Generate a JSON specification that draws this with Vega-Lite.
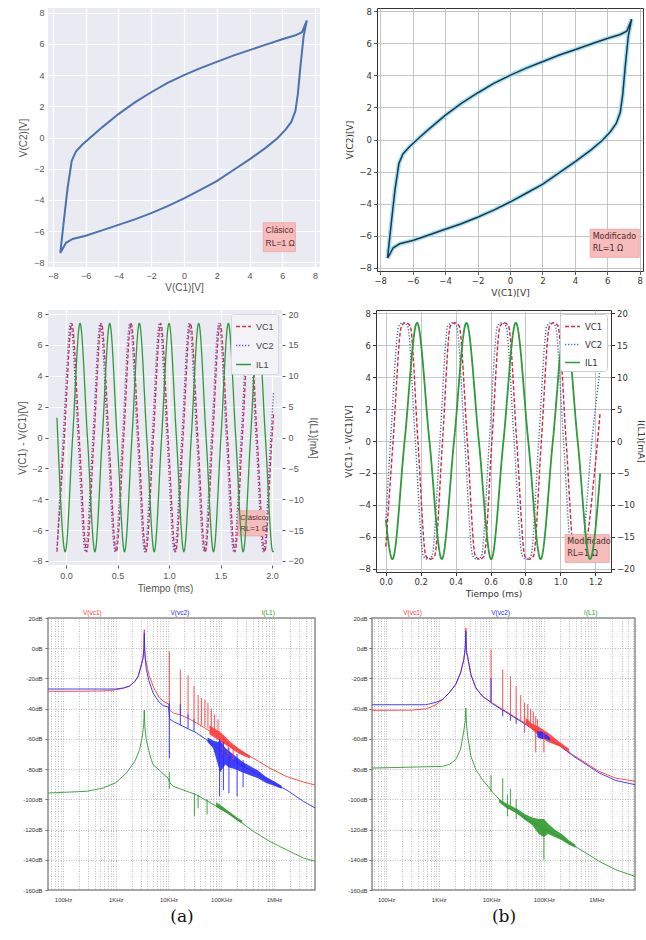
{
"$schema":"https://vega.github.io/schema/vega-lite/v6.json",
"background":"white",
"padding":{"left":17,"top":6,"right":0,"bottom":0},
"config":{"font":"Liberation Sans","axis":{"labelOverlap":false}},
"resolve":{"scale":{"color":"independent","strokeDash":"independent"},"legend":{"color":"independent","strokeDash":"independent"}},
"datasets":{
"loop":[{"o":1,"x":-7.55,"y":-7.4},{"o":2,"x":-7.35,"y":-5.5},{"o":3,"x":-7.1,"y":-3.2},{"o":4,"x":-6.85,"y":-1.5},{"o":5,"x":-6.6,"y":-0.9},{"o":6,"x":-6.2,"y":-0.45},{"o":7,"x":-5.5,"y":0.2},{"o":8,"x":-5.0,"y":0.65},{"o":9,"x":-4.0,"y":1.5},{"o":10,"x":-3.0,"y":2.25},{"o":11,"x":-2.0,"y":2.9},{"o":12,"x":-1.0,"y":3.5},{"o":13,"x":0.0,"y":4.0},{"o":14,"x":1.0,"y":4.45},{"o":15,"x":2.0,"y":4.85},{"o":16,"x":3.0,"y":5.25},{"o":17,"x":4.0,"y":5.6},{"o":18,"x":5.0,"y":5.95},{"o":19,"x":6.0,"y":6.3},{"o":20,"x":6.8,"y":6.55},{"o":21,"x":7.2,"y":6.75},{"o":22,"x":7.5,"y":7.5},{"o":23,"x":7.3,"y":6.5},{"o":24,"x":7.1,"y":4.5},{"o":25,"x":6.95,"y":2.8},{"o":26,"x":6.8,"y":1.7},{"o":27,"x":6.55,"y":1.0},{"o":28,"x":6.2,"y":0.5},{"o":29,"x":5.7,"y":-0.05},{"o":30,"x":5.0,"y":-0.65},{"o":31,"x":4.0,"y":-1.4},{"o":32,"x":3.0,"y":-2.1},{"o":33,"x":2.0,"y":-2.8},{"o":34,"x":1.0,"y":-3.35},{"o":35,"x":0.0,"y":-3.9},{"o":36,"x":-1.0,"y":-4.4},{"o":37,"x":-2.0,"y":-4.85},{"o":38,"x":-3.0,"y":-5.25},{"o":39,"x":-4.0,"y":-5.6},{"o":40,"x":-5.0,"y":-5.95},{"o":41,"x":-6.0,"y":-6.3},{"o":42,"x":-6.8,"y":-6.5},{"o":43,"x":-7.2,"y":-6.75},{"o":44,"x":-7.55,"y":-7.4}],
"tsL":[
{"s":"VC1","t":-0.088,"v":-7.4},{"s":"VC1","t":-0.016,"v":0},{"s":"VC1","t":0.056,"v":7.4},{"s":"VC1","t":0.128,"v":0},{"s":"VC1","t":0.2,"v":-7.4},{"s":"VC1","t":0.272,"v":0},{"s":"VC1","t":0.344,"v":7.4},{"s":"VC1","t":0.416,"v":0},{"s":"VC1","t":0.488,"v":-7.4},{"s":"VC1","t":0.56,"v":0},{"s":"VC1","t":0.632,"v":7.4},{"s":"VC1","t":0.704,"v":0},{"s":"VC1","t":0.776,"v":-7.4},{"s":"VC1","t":0.848,"v":0},{"s":"VC1","t":0.92,"v":7.4},{"s":"VC1","t":0.992,"v":0},{"s":"VC1","t":1.064,"v":-7.4},{"s":"VC1","t":1.136,"v":0},{"s":"VC1","t":1.208,"v":7.4},{"s":"VC1","t":1.28,"v":0},{"s":"VC1","t":1.352,"v":-7.4},{"s":"VC1","t":1.424,"v":0},{"s":"VC1","t":1.496,"v":7.4},{"s":"VC1","t":1.568,"v":0},{"s":"VC1","t":1.64,"v":-7.4},{"s":"VC1","t":1.712,"v":0},{"s":"VC1","t":1.784,"v":7.4},{"s":"VC1","t":1.856,"v":0},{"s":"VC1","t":1.928,"v":-7.4},{"s":"VC1","t":2.0,"v":0},{"s":"VC1","t":2.015,"v":1.5},
{"s":"VC2","t":-0.088,"v":-7.2},{"s":"VC2","t":-0.028,"v":0},{"s":"VC2","t":0.044,"v":7.4},{"s":"VC2","t":0.116,"v":0},{"s":"VC2","t":0.188,"v":-7.4},{"s":"VC2","t":0.26,"v":0},{"s":"VC2","t":0.332,"v":7.4},{"s":"VC2","t":0.404,"v":0},{"s":"VC2","t":0.476,"v":-7.4},{"s":"VC2","t":0.548,"v":0},{"s":"VC2","t":0.62,"v":7.4},{"s":"VC2","t":0.692,"v":0},{"s":"VC2","t":0.764,"v":-7.4},{"s":"VC2","t":0.836,"v":0},{"s":"VC2","t":0.908,"v":7.4},{"s":"VC2","t":0.98,"v":0},{"s":"VC2","t":1.052,"v":-7.4},{"s":"VC2","t":1.124,"v":0},{"s":"VC2","t":1.196,"v":7.4},{"s":"VC2","t":1.268,"v":0},{"s":"VC2","t":1.34,"v":-7.4},{"s":"VC2","t":1.412,"v":0},{"s":"VC2","t":1.484,"v":7.4},{"s":"VC2","t":1.556,"v":0},{"s":"VC2","t":1.628,"v":-7.4},{"s":"VC2","t":1.7,"v":0},{"s":"VC2","t":1.772,"v":7.4},{"s":"VC2","t":1.844,"v":0},{"s":"VC2","t":1.916,"v":-7.4},{"s":"VC2","t":1.988,"v":0},{"s":"VC2","t":2.015,"v":3.0}],
"ilL":[{"s":"IL1","t":-0.088,"i":3.2},{"s":"IL1","t":-0.08,"i":0},{"s":"IL1","t":-0.008,"i":-18.5},{"s":"IL1","t":0.064,"i":0},{"s":"IL1","t":0.136,"i":18.5},{"s":"IL1","t":0.208,"i":0},{"s":"IL1","t":0.28,"i":-18.5},{"s":"IL1","t":0.352,"i":0},{"s":"IL1","t":0.424,"i":18.5},{"s":"IL1","t":0.496,"i":0},{"s":"IL1","t":0.568,"i":-18.5},{"s":"IL1","t":0.64,"i":0},{"s":"IL1","t":0.712,"i":18.5},{"s":"IL1","t":0.784,"i":0},{"s":"IL1","t":0.856,"i":-18.5},{"s":"IL1","t":0.928,"i":0},{"s":"IL1","t":1.0,"i":18.5},{"s":"IL1","t":1.072,"i":0},{"s":"IL1","t":1.144,"i":-18.5},{"s":"IL1","t":1.216,"i":0},{"s":"IL1","t":1.288,"i":18.5},{"s":"IL1","t":1.36,"i":0},{"s":"IL1","t":1.432,"i":-18.5},{"s":"IL1","t":1.504,"i":0},{"s":"IL1","t":1.576,"i":18.5},{"s":"IL1","t":1.648,"i":0},{"s":"IL1","t":1.72,"i":-18.5},{"s":"IL1","t":1.792,"i":0},{"s":"IL1","t":1.864,"i":18.5},{"s":"IL1","t":1.936,"i":0},{"s":"IL1","t":2.008,"i":-18.5},{"s":"IL1","t":2.015,"i":-18.4}],
"tsR":[
{"s":"VC1","t":0,"v":-6.6},{"s":"VC1","t":0.042,"v":0},{"s":"VC1","t":0.09,"v":7.2},{"s":"VC1","t":0.113,"v":7.4},{"s":"VC1","t":0.14,"v":7.2},{"s":"VC1","t":0.184,"v":0},{"s":"VC1","t":0.23,"v":-7.2},{"s":"VC1","t":0.255,"v":-7.4},{"s":"VC1","t":0.28,"v":-7.2},{"s":"VC1","t":0.325,"v":0},{"s":"VC1","t":0.37,"v":7.2},{"s":"VC1","t":0.396,"v":7.4},{"s":"VC1","t":0.42,"v":7.2},{"s":"VC1","t":0.467,"v":0},{"s":"VC1","t":0.513,"v":-7.2},{"s":"VC1","t":0.538,"v":-7.4},{"s":"VC1","t":0.563,"v":-7.2},{"s":"VC1","t":0.608,"v":0},{"s":"VC1","t":0.655,"v":7.2},{"s":"VC1","t":0.679,"v":7.4},{"s":"VC1","t":0.703,"v":7.2},{"s":"VC1","t":0.75,"v":0},{"s":"VC1","t":0.797,"v":-7.2},{"s":"VC1","t":0.821,"v":-7.4},{"s":"VC1","t":0.846,"v":-7.2},{"s":"VC1","t":0.891,"v":0},{"s":"VC1","t":0.938,"v":7.2},{"s":"VC1","t":0.962,"v":7.4},{"s":"VC1","t":0.986,"v":7.2},{"s":"VC1","t":1.033,"v":0},{"s":"VC1","t":1.08,"v":-7.2},{"s":"VC1","t":1.104,"v":-7.4},{"s":"VC1","t":1.13,"v":-7.2},{"s":"VC1","t":1.2,"v":-1.5},{"s":"VC1","t":1.228,"v":1.8},
{"s":"VC2","t":0,"v":-5.0},{"s":"VC2","t":0.027,"v":0},{"s":"VC2","t":0.075,"v":7.2},{"s":"VC2","t":0.098,"v":7.4},{"s":"VC2","t":0.125,"v":7.2},{"s":"VC2","t":0.169,"v":0},{"s":"VC2","t":0.215,"v":-7.2},{"s":"VC2","t":0.24,"v":-7.4},{"s":"VC2","t":0.265,"v":-7.2},{"s":"VC2","t":0.31,"v":0},{"s":"VC2","t":0.355,"v":7.2},{"s":"VC2","t":0.381,"v":7.4},{"s":"VC2","t":0.405,"v":7.2},{"s":"VC2","t":0.452,"v":0},{"s":"VC2","t":0.498,"v":-7.2},{"s":"VC2","t":0.523,"v":-7.4},{"s":"VC2","t":0.548,"v":-7.2},{"s":"VC2","t":0.593,"v":0},{"s":"VC2","t":0.64,"v":7.2},{"s":"VC2","t":0.664,"v":7.4},{"s":"VC2","t":0.688,"v":7.2},{"s":"VC2","t":0.735,"v":0},{"s":"VC2","t":0.782,"v":-7.2},{"s":"VC2","t":0.806,"v":-7.4},{"s":"VC2","t":0.831,"v":-7.2},{"s":"VC2","t":0.876,"v":0},{"s":"VC2","t":0.923,"v":7.2},{"s":"VC2","t":0.947,"v":7.4},{"s":"VC2","t":0.971,"v":7.2},{"s":"VC2","t":1.018,"v":0},{"s":"VC2","t":1.065,"v":-7.2},{"s":"VC2","t":1.089,"v":-7.4},{"s":"VC2","t":1.115,"v":-7.2},{"s":"VC2","t":1.185,"v":0.5},{"s":"VC2","t":1.228,"v":4.6}],
"ilR":[{"s":"IL1","t":0,"i":-12.3},{"s":"IL1","t":0.038,"i":-18.5},{"s":"IL1","t":0.108,"i":0},{"s":"IL1","t":0.179,"i":18.5},{"s":"IL1","t":0.25,"i":0},{"s":"IL1","t":0.321,"i":-18.5},{"s":"IL1","t":0.391,"i":0},{"s":"IL1","t":0.462,"i":18.5},{"s":"IL1","t":0.533,"i":0},{"s":"IL1","t":0.604,"i":-18.5},{"s":"IL1","t":0.674,"i":0},{"s":"IL1","t":0.745,"i":18.5},{"s":"IL1","t":0.816,"i":0},{"s":"IL1","t":0.887,"i":-18.5},{"s":"IL1","t":0.957,"i":0},{"s":"IL1","t":1.028,"i":18.5},{"s":"IL1","t":1.099,"i":0},{"s":"IL1","t":1.17,"i":-18.5},{"s":"IL1","t":1.228,"i":-5.1}],
"spec5":[
{"s":"V(vc1)","f":52,"db":-28.5},{"s":"V(vc1)","f":200,"db":-28.5},{"s":"V(vc1)","f":500,"db":-28.3},{"s":"V(vc1)","f":800,"db":-28},{"s":"V(vc1)","f":1000,"db":-27.5},{"s":"V(vc1)","f":1400,"db":-26.5},{"s":"V(vc1)","f":1840,"db":-25},{"s":"V(vc1)","f":2300,"db":-22},{"s":"V(vc1)","f":2660,"db":-18.6},{"s":"V(vc1)","f":3000,"db":-12},{"s":"V(vc1)","f":3300,"db":-6},{"s":"V(vc1)","f":3420,"db":0},{"s":"V(vc1)","f":3480,"db":12.3},{"s":"V(vc1)","f":3540,"db":0},{"s":"V(vc1)","f":3650,"db":-6},{"s":"V(vc1)","f":3800,"db":-9.8},{"s":"V(vc1)","f":4300,"db":-18},{"s":"V(vc1)","f":5100,"db":-25},{"s":"V(vc1)","f":6000,"db":-30},{"s":"V(vc1)","f":6800,"db":-33},{"s":"V(vc1)","f":8000,"db":-35},{"s":"V(vc1)","f":10000,"db":-37},{"s":"V(vc1)","f":10600,"db":-41},{"s":"V(vc1)","f":12500,"db":-43},{"s":"V(vc1)","f":16400,"db":-44},{"s":"V(vc1)","f":24000,"db":-46.5},{"s":"V(vc1)","f":33900,"db":-49.5},{"s":"V(vc1)","f":50000,"db":-53},{"s":"V(vc1)","f":93000,"db":-59},{"s":"V(vc1)","f":150000,"db":-64.5},{"s":"V(vc1)","f":226000,"db":-68.2},{"s":"V(vc1)","f":400000,"db":-72.6},{"s":"V(vc1)","f":830000,"db":-79.3},{"s":"V(vc1)","f":1700000,"db":-84.8},{"s":"V(vc1)","f":3600000,"db":-88.5},{"s":"V(vc1)","f":6000000,"db":-90.5},
{"s":"V(vc2)","f":52,"db":-27},{"s":"V(vc2)","f":500,"db":-27},{"s":"V(vc2)","f":1000,"db":-27},{"s":"V(vc2)","f":1400,"db":-26.3},{"s":"V(vc2)","f":1840,"db":-25},{"s":"V(vc2)","f":2300,"db":-22},{"s":"V(vc2)","f":2660,"db":-18.6},{"s":"V(vc2)","f":3000,"db":-12.5},{"s":"V(vc2)","f":3300,"db":-6.5},{"s":"V(vc2)","f":3420,"db":0},{"s":"V(vc2)","f":3480,"db":10},{"s":"V(vc2)","f":3540,"db":-2},{"s":"V(vc2)","f":3650,"db":-8},{"s":"V(vc2)","f":3800,"db":-14},{"s":"V(vc2)","f":4300,"db":-22},{"s":"V(vc2)","f":5100,"db":-29.6},{"s":"V(vc2)","f":6000,"db":-33.5},{"s":"V(vc2)","f":6800,"db":-36},{"s":"V(vc2)","f":8000,"db":-38},{"s":"V(vc2)","f":10000,"db":-39},{"s":"V(vc2)","f":10600,"db":-47},{"s":"V(vc2)","f":12300,"db":-48.4},{"s":"V(vc2)","f":16400,"db":-50.6},{"s":"V(vc2)","f":33900,"db":-56},{"s":"V(vc2)","f":50000,"db":-60},{"s":"V(vc2)","f":93000,"db":-67},{"s":"V(vc2)","f":226000,"db":-77},{"s":"V(vc2)","f":400000,"db":-81.5},{"s":"V(vc2)","f":830000,"db":-88},{"s":"V(vc2)","f":1700000,"db":-93.6},{"s":"V(vc2)","f":3600000,"db":-101.3},{"s":"V(vc2)","f":6000000,"db":-105.7},
{"s":"I(L1)","f":52,"db":-95.8},{"s":"I(L1)","f":280,"db":-94.7},{"s":"I(L1)","f":575,"db":-92.5},{"s":"I(L1)","f":1000,"db":-89},{"s":"I(L1)","f":1600,"db":-82.6},{"s":"I(L1)","f":2300,"db":-74.9},{"s":"I(L1)","f":2850,"db":-67},{"s":"I(L1)","f":3200,"db":-58},{"s":"I(L1)","f":3400,"db":-50},{"s":"I(L1)","f":3480,"db":-41},{"s":"I(L1)","f":3560,"db":-52},{"s":"I(L1)","f":3800,"db":-60.5},{"s":"I(L1)","f":4500,"db":-71.5},{"s":"I(L1)","f":5100,"db":-77},{"s":"I(L1)","f":6800,"db":-81},{"s":"I(L1)","f":9800,"db":-86},{"s":"I(L1)","f":10600,"db":-89},{"s":"I(L1)","f":12300,"db":-91.4},{"s":"I(L1)","f":33900,"db":-97},{"s":"I(L1)","f":93000,"db":-105.7},{"s":"I(L1)","f":226000,"db":-114.6},{"s":"I(L1)","f":400000,"db":-121},{"s":"I(L1)","f":830000,"db":-127.8},{"s":"I(L1)","f":1700000,"db":-133.3},{"s":"I(L1)","f":3600000,"db":-138.8},{"s":"I(L1)","f":6000000,"db":-141}],
"fuzz5":[
{"s":"V(vc1)","f":60000,"lo":-57,"hi":-51},{"s":"V(vc1)","f":100000,"lo":-62,"hi":-56},{"s":"V(vc1)","f":150000,"lo":-66,"hi":-62},{"s":"V(vc1)","f":220000,"lo":-70,"hi":-66.5},{"s":"V(vc1)","f":350000,"lo":-73,"hi":-71},
{"s":"V(vc2)","f":55000,"lo":-62,"hi":-59},{"s":"V(vc2)","f":70000,"lo":-66,"hi":-61},{"s":"V(vc2)","f":85000,"lo":-76,"hi":-62},{"s":"V(vc2)","f":95000,"lo":-82,"hi":-61},{"s":"V(vc2)","f":105000,"lo":-80,"hi":-63},{"s":"V(vc2)","f":120000,"lo":-77,"hi":-66},{"s":"V(vc2)","f":140000,"lo":-79,"hi":-68},{"s":"V(vc2)","f":180000,"lo":-80,"hi":-71},{"s":"V(vc2)","f":250000,"lo":-82,"hi":-75},{"s":"V(vc2)","f":350000,"lo":-84,"hi":-78},{"s":"V(vc2)","f":500000,"lo":-86,"hi":-81},{"s":"V(vc2)","f":700000,"lo":-89,"hi":-85},{"s":"V(vc2)","f":1000000,"lo":-91,"hi":-88},{"s":"V(vc2)","f":1400000,"lo":-93,"hi":-91},
{"s":"I(L1)","f":80000,"lo":-105,"hi":-102},{"s":"I(L1)","f":100000,"lo":-107,"hi":-104},{"s":"I(L1)","f":130000,"lo":-109,"hi":-107},{"s":"I(L1)","f":200000,"lo":-114,"hi":-112},{"s":"I(L1)","f":250000,"lo":-116,"hi":-114}],
"spk5":[
{"s":"V(vc1)","f":10400,"lo":-38,"hi":-2},{"s":"V(vc1)","f":16800,"lo":-44,"hi":-14},{"s":"V(vc1)","f":23500,"lo":-46,"hi":-18},{"s":"V(vc1)","f":30500,"lo":-48,"hi":-25},{"s":"V(vc1)","f":36500,"lo":-50,"hi":-31},{"s":"V(vc1)","f":42500,"lo":-51,"hi":-33},{"s":"V(vc1)","f":49000,"lo":-52,"hi":-34},{"s":"V(vc1)","f":56000,"lo":-53,"hi":-36},{"s":"V(vc1)","f":65000,"lo":-55,"hi":-40},{"s":"V(vc1)","f":75000,"lo":-56,"hi":-44},{"s":"V(vc1)","f":87000,"lo":-58,"hi":-47},{"s":"V(vc1)","f":108000,"lo":-70,"hi":-58},{"s":"V(vc1)","f":135000,"lo":-72,"hi":-62},{"s":"V(vc1)","f":168000,"lo":-74,"hi":-65},
{"s":"V(vc2)","f":10400,"lo":-73,"hi":-36},{"s":"V(vc2)","f":16800,"lo":-51,"hi":-37},{"s":"V(vc2)","f":23500,"lo":-53,"hi":-44},{"s":"V(vc2)","f":30500,"lo":-55,"hi":-47},{"s":"V(vc2)","f":93000,"lo":-98,"hi":-60},{"s":"V(vc2)","f":110000,"lo":-94,"hi":-62},{"s":"V(vc2)","f":140000,"lo":-96,"hi":-66},{"s":"V(vc2)","f":200000,"lo":-98,"hi":-70},{"s":"V(vc2)","f":260000,"lo":-92,"hi":-74},
{"s":"I(L1)","f":10400,"lo":-93,"hi":-82},{"s":"I(L1)","f":31000,"lo":-111,"hi":-96},{"s":"I(L1)","f":36500,"lo":-106,"hi":-97},{"s":"I(L1)","f":54000,"lo":-110,"hi":-100}],
"lab5":[{"s":"V(vc1)","f":360},{"s":"V(vc2)","f":16400},{"s":"I(L1)","f":776000}],
"spec6":[
{"s":"V(vc1)","f":54,"db":-41.1},{"s":"V(vc1)","f":300,"db":-41},{"s":"V(vc1)","f":570,"db":-40.2},{"s":"V(vc1)","f":890,"db":-37.4},{"s":"V(vc1)","f":1180,"db":-34},{"s":"V(vc1)","f":1580,"db":-29.6},{"s":"V(vc1)","f":2100,"db":-24},{"s":"V(vc1)","f":2600,"db":-16.4},{"s":"V(vc1)","f":3000,"db":-7.6},{"s":"V(vc1)","f":3200,"db":0},{"s":"V(vc1)","f":3290,"db":13.4},{"s":"V(vc1)","f":3370,"db":-1},{"s":"V(vc1)","f":3560,"db":-5.4},{"s":"V(vc1)","f":4100,"db":-17.5},{"s":"V(vc1)","f":5100,"db":-26.3},{"s":"V(vc1)","f":6800,"db":-31.8},{"s":"V(vc1)","f":9200,"db":-35},{"s":"V(vc1)","f":10600,"db":-36.3},{"s":"V(vc1)","f":19000,"db":-41.8},{"s":"V(vc1)","f":34000,"db":-47.3},{"s":"V(vc1)","f":61000,"db":-52.8},{"s":"V(vc1)","f":110000,"db":-58.3},{"s":"V(vc1)","f":195000,"db":-63.8},{"s":"V(vc1)","f":350000,"db":-70.4},{"s":"V(vc1)","f":630000,"db":-76},{"s":"V(vc1)","f":1120000,"db":-81.5},{"s":"V(vc1)","f":2330000,"db":-86},{"s":"V(vc1)","f":5400000,"db":-88},
{"s":"V(vc2)","f":54,"db":-37.4},{"s":"V(vc2)","f":570,"db":-37.4},{"s":"V(vc2)","f":890,"db":-35.8},{"s":"V(vc2)","f":1180,"db":-34},{"s":"V(vc2)","f":1580,"db":-29.6},{"s":"V(vc2)","f":2100,"db":-24},{"s":"V(vc2)","f":2600,"db":-16.4},{"s":"V(vc2)","f":3000,"db":-7.6},{"s":"V(vc2)","f":3200,"db":0},{"s":"V(vc2)","f":3290,"db":11.2},{"s":"V(vc2)","f":3370,"db":-3},{"s":"V(vc2)","f":3560,"db":-6},{"s":"V(vc2)","f":4100,"db":-17.5},{"s":"V(vc2)","f":5100,"db":-26.3},{"s":"V(vc2)","f":6800,"db":-31.8},{"s":"V(vc2)","f":9200,"db":-35},{"s":"V(vc2)","f":10600,"db":-36.8},{"s":"V(vc2)","f":19000,"db":-42.3},{"s":"V(vc2)","f":34000,"db":-47.8},{"s":"V(vc2)","f":61000,"db":-53.3},{"s":"V(vc2)","f":110000,"db":-58.8},{"s":"V(vc2)","f":195000,"db":-64.3},{"s":"V(vc2)","f":350000,"db":-71},{"s":"V(vc2)","f":630000,"db":-76.8},{"s":"V(vc2)","f":1120000,"db":-82.5},{"s":"V(vc2)","f":2330000,"db":-87.5},{"s":"V(vc2)","f":5400000,"db":-90.3},
{"s":"I(L1)","f":54,"db":-79.3},{"s":"I(L1)","f":1180,"db":-78.2},{"s":"I(L1)","f":1580,"db":-77},{"s":"I(L1)","f":2100,"db":-73.8},{"s":"I(L1)","f":2600,"db":-67},{"s":"I(L1)","f":3000,"db":-55},{"s":"I(L1)","f":3200,"db":-48},{"s":"I(L1)","f":3290,"db":-39.6},{"s":"I(L1)","f":3370,"db":-50},{"s":"I(L1)","f":3560,"db":-58.3},{"s":"I(L1)","f":4100,"db":-71.5},{"s":"I(L1)","f":5100,"db":-80.4},{"s":"I(L1)","f":6800,"db":-87},{"s":"I(L1)","f":9200,"db":-92.5},{"s":"I(L1)","f":10600,"db":-95.4},{"s":"I(L1)","f":19000,"db":-104.6},{"s":"I(L1)","f":34000,"db":-110},{"s":"I(L1)","f":61000,"db":-115.2},{"s":"I(L1)","f":110000,"db":-120},{"s":"I(L1)","f":195000,"db":-124.5},{"s":"I(L1)","f":350000,"db":-130},{"s":"I(L1)","f":630000,"db":-135.5},{"s":"I(L1)","f":1120000,"db":-141},{"s":"I(L1)","f":2330000,"db":-146.6},{"s":"I(L1)","f":5400000,"db":-151}],
"fuzz6":[
{"s":"V(vc1)","f":45000,"lo":-50,"hi":-46},{"s":"V(vc1)","f":60000,"lo":-54,"hi":-50},{"s":"V(vc1)","f":80000,"lo":-58,"hi":-52},{"s":"V(vc1)","f":120000,"lo":-62,"hi":-56},{"s":"V(vc1)","f":200000,"lo":-65,"hi":-62},{"s":"V(vc1)","f":300000,"lo":-68.5,"hi":-66.5},
{"s":"V(vc2)","f":75000,"lo":-59,"hi":-55},{"s":"V(vc2)","f":90000,"lo":-60,"hi":-55},{"s":"V(vc2)","f":110000,"lo":-60,"hi":-57},{"s":"V(vc2)","f":130000,"lo":-61,"hi":-59},
{"s":"I(L1)","f":14000,"lo":-102,"hi":-100},{"s":"I(L1)","f":20000,"lo":-106,"hi":-103},{"s":"I(L1)","f":30000,"lo":-109,"hi":-106},{"s":"I(L1)","f":45000,"lo":-114,"hi":-110},{"s":"I(L1)","f":60000,"lo":-117,"hi":-112},{"s":"I(L1)","f":80000,"lo":-123,"hi":-113},{"s":"I(L1)","f":100000,"lo":-125,"hi":-113},{"s":"I(L1)","f":120000,"lo":-123,"hi":-116},{"s":"I(L1)","f":160000,"lo":-125,"hi":-120},{"s":"I(L1)","f":220000,"lo":-127,"hi":-123},{"s":"I(L1)","f":300000,"lo":-130,"hi":-127},{"s":"I(L1)","f":400000,"lo":-132,"hi":-130}],
"spk6":[
{"s":"V(vc1)","f":9900,"lo":-35,"hi":-1},{"s":"V(vc1)","f":16500,"lo":-42,"hi":-14},{"s":"V(vc1)","f":23100,"lo":-44,"hi":-18.6},{"s":"V(vc1)","f":29700,"lo":-46,"hi":-25},{"s":"V(vc1)","f":36300,"lo":-48,"hi":-31},{"s":"V(vc1)","f":42900,"lo":-56,"hi":-36},{"s":"V(vc1)","f":49500,"lo":-50,"hi":-37},{"s":"V(vc1)","f":56000,"lo":-51,"hi":-40},{"s":"V(vc1)","f":63000,"lo":-52,"hi":-42},{"s":"V(vc1)","f":70000,"lo":-69,"hi":-45},{"s":"V(vc1)","f":76000,"lo":-54,"hi":-47},{"s":"V(vc1)","f":100000,"lo":-69,"hi":-55},
{"s":"V(vc2)","f":9900,"lo":-36,"hi":-19.7},{"s":"V(vc2)","f":16500,"lo":-45,"hi":-41},{"s":"V(vc2)","f":23100,"lo":-48,"hi":-44},{"s":"V(vc2)","f":29700,"lo":-50,"hi":-46},
{"s":"I(L1)","f":9900,"lo":-95,"hi":-84},{"s":"I(L1)","f":16500,"lo":-102,"hi":-86},{"s":"I(L1)","f":20300,"lo":-111,"hi":-97},{"s":"I(L1)","f":23100,"lo":-105,"hi":-93},{"s":"I(L1)","f":29700,"lo":-113,"hi":-100},{"s":"I(L1)","f":100000,"lo":-140,"hi":-120}],
"lab6":[{"s":"V(vc1)","f":320},{"s":"V(vc2)","f":15000},{"s":"I(L1)","f":780000}]
},
"spacing":10,
"vconcat":[
{"spacing":25,"resolve":{"scale":{"color":"independent","strokeDash":"independent"},"legend":{"color":"independent","strokeDash":"independent"}},"hconcat":[
 {"width":272,"height":259,"view":{"fill":"#EAEAF2","stroke":null},
  "layer":[
   {"data":{"name":"loop"},"mark":{"type":"line","color":"#4c72b0","strokeWidth":2},
    "encoding":{
     "x":{"field":"x","type":"quantitative","scale":{"domain":[-8.3,8.3],"nice":false,"zero":false},
      "axis":{"title":"V(C1)[V]","values":[-8,-6,-4,-2,0,2,4,6,8],"tickCount":100,"format":"d","labelOverlap":false,"grid":true,"gridColor":"#ffffff","gridWidth":1.2,"domain":false,"ticks":false,"labelFont":"Liberation Sans","labelFontSize":9,"labelColor":"#555555","labelPadding":4,"titleFont":"Liberation Sans","titleFontSize":10,"titleFontWeight":"normal","titleColor":"#555555","titlePadding":2}},
     "y":{"field":"y","type":"quantitative","scale":{"domain":[-8.3,8.3],"nice":false,"zero":false},
      "axis":{"title":"V(C2)[V]","values":[-8,-6,-4,-2,0,2,4,6,8],"tickCount":100,"format":"d","labelOverlap":false,"grid":true,"gridColor":"#ffffff","gridWidth":1.2,"domain":false,"ticks":false,"labelFont":"Liberation Sans","labelFontSize":9,"labelColor":"#555555","labelPadding":4,"titleFont":"Liberation Sans","titleFontSize":10,"titleFontWeight":"normal","titleColor":"#555555","titlePadding":5}},
     "order":{"field":"o","type":"quantitative"}}},
   {"data":{"values":[{"x1":4.84,"x2":6.8,"y1":-5.46,"y2":-7.32}]},"mark":{"type":"rect","fill":"#f7bcbc","stroke":"#e9a5a5","strokeWidth":0.8},
    "encoding":{"x":{"field":"x1","type":"quantitative"},"x2":{"field":"x2"},"y":{"field":"y1","type":"quantitative"},"y2":{"field":"y2"}}},
   {"data":{"values":[{"x":4.98,"y":-5.95,"txt":"Clásico"},{"x":4.98,"y":-6.75,"txt":"RL=1 Ω"}]},"mark":{"type":"text","align":"left","baseline":"middle","font":"Liberation Sans","fontSize":8.5,"color":"#5a3030"},
    "encoding":{"x":{"field":"x","type":"quantitative"},"y":{"field":"y","type":"quantitative"},"text":{"field":"txt"}}}
  ]},
 {"width":266,"height":263,"view":{"fill":"#ffffff","stroke":"#333333","strokeWidth":1},
  "layer":[
   {"data":{"name":"loop"},"mark":{"type":"line","color":"#a6e3f5","strokeWidth":4.5},
    "encoding":{
     "x":{"field":"x","type":"quantitative","scale":{"domain":[-8.2,8.2],"nice":false,"zero":false},
      "axis":{"title":"V(C1)[V]","values":[-8,-6,-4,-2,0,2,4,6,8],"tickCount":100,"format":"d","labelOverlap":false,"grid":true,"gridColor":"#b8b8b8","gridWidth":0.8,"domain":false,"ticks":true,"tickColor":"#333333","tickSize":3.5,"tickWidth":0.8,"labelFont":"DejaVu Sans","labelFontSize":8.5,"labelColor":"#333333","labelPadding":2,"titleFont":"DejaVu Sans","titleFontSize":9,"titleFontWeight":"normal","titleColor":"#333333","titlePadding":3}},
     "y":{"field":"y","type":"quantitative","scale":{"domain":[-8.2,8.2],"nice":false,"zero":false},
      "axis":{"title":"V(C2)[V]","values":[-8,-6,-4,-2,0,2,4,6,8],"tickCount":100,"format":"d","labelOverlap":false,"grid":true,"gridColor":"#b8b8b8","gridWidth":0.8,"domain":false,"ticks":true,"tickColor":"#333333","tickSize":3.5,"tickWidth":0.8,"labelFont":"DejaVu Sans","labelFontSize":8.5,"labelColor":"#333333","labelPadding":2,"titleFont":"DejaVu Sans","titleFontSize":9,"titleFontWeight":"normal","titleColor":"#333333","titlePadding":4}},
     "order":{"field":"o","type":"quantitative"}}},
   {"data":{"name":"loop"},"mark":{"type":"line","color":"#1c3550","strokeWidth":1.5},
    "encoding":{"x":{"field":"x","type":"quantitative"},"y":{"field":"y","type":"quantitative"},"order":{"field":"o","type":"quantitative"}}},
   {"data":{"values":[{"x1":4.94,"x2":7.97,"y1":-5.6,"y2":-7.35}]},"mark":{"type":"rect","fill":"#f7bcbc","stroke":"#e9a5a5","strokeWidth":0.8},
    "encoding":{"x":{"field":"x1","type":"quantitative"},"x2":{"field":"x2"},"y":{"field":"y1","type":"quantitative"},"y2":{"field":"y2"}}},
   {"data":{"values":[{"x":5.1,"y":-6.05,"txt":"Modificado"},{"x":5.1,"y":-6.8,"txt":"RL=1 Ω"}]},"mark":{"type":"text","align":"left","baseline":"middle","font":"DejaVu Sans","fontSize":8,"color":"#4a2a2a"},
    "encoding":{"x":{"field":"x","type":"quantitative"},"y":{"field":"y","type":"quantitative"},"text":{"field":"txt"}}}
  ]}
]},
{"spacing":26,"resolve":{"scale":{"color":"independent","strokeDash":"independent"},"legend":{"color":"independent","strokeDash":"independent"}},"hconcat":[
 {"width":234,"height":255,"view":{"fill":"#EAEAF2","stroke":null},
  "resolve":{"scale":{"y":"independent"}},
  "layer":[
   {"layer":[
     {"data":{"name":"tsL"},"mark":{"type":"line","strokeWidth":1.3,"interpolate":"monotone"},
      "encoding":{
       "x":{"field":"t","type":"quantitative","scale":{"domain":[-0.175,2.097],"nice":false,"zero":false},
        "axis":{"title":"Tiempo (ms)","values":[0,0.5,1,1.5,2],"tickCount":100,"format":".1f","labelOverlap":false,"grid":true,"gridColor":"#ffffff","gridWidth":1.2,"domain":false,"ticks":true,"tickColor":"#555555","tickSize":3,"labelFont":"Liberation Sans","labelFontSize":9,"labelColor":"#555555","labelPadding":3,"titleFont":"Liberation Sans","titleFontSize":10,"titleFontWeight":"normal","titleColor":"#555555","titlePadding":3}},
       "y":{"field":"v","type":"quantitative","scale":{"domain":[-8.26,8.26],"nice":false,"zero":false},
        "axis":{"title":"V(C1) - V(C1)[V]","values":[-8,-6,-4,-2,0,2,4,6,8],"tickCount":100,"format":"d","labelOverlap":false,"grid":true,"gridColor":"#ffffff","gridWidth":1.2,"domain":false,"ticks":true,"tickColor":"#555555","tickSize":3,"labelFont":"Liberation Sans","labelFontSize":9,"labelColor":"#555555","labelPadding":3,"titleFont":"Liberation Sans","titleFontSize":10,"titleFontWeight":"normal","titleColor":"#555555","titlePadding":4}},
       "color":{"field":"s","type":"nominal","scale":{"domain":["VC1","VC2","IL1"],"range":["#d2304e","#6650b8","#2e9a3a"]},
        "legend":{"title":null,"orient":"top-right","offset":4,"fillColor":"#f2f2f7","strokeColor":"#d8d8e0","padding":4,"cornerRadius":2,"symbolType":"stroke","symbolStrokeWidth":1.4,"symbolSize":220,"labelFont":"Liberation Sans","labelFontSize":9,"labelColor":"#444444","rowPadding":5}},
       "strokeDash":{"field":"s","type":"nominal","scale":{"domain":["VC1","VC2","IL1"],"range":[[4,2],[1.2,1.8],[1,0]]},
        "legend":{"title":null,"orient":"top-right","offset":4,"fillColor":"#f2f2f7","strokeColor":"#d8d8e0","padding":4,"cornerRadius":2,"symbolType":"stroke","symbolStrokeWidth":1.4,"symbolSize":220,"labelFont":"Liberation Sans","labelFontSize":9,"labelColor":"#444444","rowPadding":5}}}},
     {"data":{"values":[{"x1":1.67,"x2":1.93,"y1":-4.75,"y2":-6.37}]},"mark":{"type":"rect","fill":"#f7bcbc","stroke":"#e9a5a5","strokeWidth":0.8},
      "encoding":{"x":{"field":"x1","type":"quantitative"},"x2":{"field":"x2"},"y":{"field":"y1","type":"quantitative"},"y2":{"field":"y2"}}},
     {"data":{"values":[{"x":1.69,"y":-5.2,"txt":"Clásico"},{"x":1.69,"y":-5.9,"txt":"RL=1 Ω"}]},"mark":{"type":"text","align":"left","baseline":"middle","font":"Liberation Sans","fontSize":8,"color":"#5a3030"},
      "encoding":{"x":{"field":"x","type":"quantitative"},"y":{"field":"y","type":"quantitative"},"text":{"field":"txt"}}}
   ]},
   {"data":{"name":"ilL"},"mark":{"type":"line","strokeWidth":1.3,"interpolate":"monotone"},
    "encoding":{
     "x":{"field":"t","type":"quantitative"},
     "y":{"field":"i","type":"quantitative","scale":{"domain":[-20.65,20.65],"nice":false,"zero":false},
      "axis":{"orient":"right","title":"I(L1)[mA]","values":[-20,-15,-10,-5,0,5,10,15,20],"tickCount":100,"format":"d","labelOverlap":false,"grid":false,"domain":false,"ticks":true,"tickColor":"#555555","tickSize":3,"labelFont":"Liberation Sans","labelFontSize":9,"labelColor":"#555555","labelPadding":3,"titleFont":"Liberation Sans","titleFontSize":10,"titleFontWeight":"normal","titleColor":"#555555","titlePadding":4}},
     "color":{"field":"s","type":"nominal"},
     "strokeDash":{"field":"s","type":"nominal"}}}
  ]},
 {"width":235,"height":262,"view":{"fill":"#ffffff","stroke":"#333333","strokeWidth":1},
  "resolve":{"scale":{"y":"independent"}},
  "layer":[
   {"layer":[
     {"data":{"name":"tsR"},"mark":{"type":"line","strokeWidth":1.4,"interpolate":"monotone"},
      "encoding":{
       "x":{"field":"t","type":"quantitative","scale":{"domain":[-0.056,1.29],"nice":false,"zero":false},
        "axis":{"title":"Tiempo (ms)","values":[0,0.2,0.4,0.6,0.8,1,1.2],"tickCount":100,"format":".1f","labelOverlap":false,"grid":true,"gridColor":"#b8b8b8","gridWidth":0.8,"domain":false,"ticks":true,"tickColor":"#333333","tickSize":3.5,"labelFont":"DejaVu Sans","labelFontSize":8.5,"labelColor":"#333333","labelPadding":2,"titleFont":"DejaVu Sans","titleFontSize":9,"titleFontWeight":"normal","titleColor":"#333333","titlePadding":3}},
       "y":{"field":"v","type":"quantitative","scale":{"domain":[-8.2,8.2],"nice":false,"zero":false},
        "axis":{"title":"V(C1) - V(C1)[V]","values":[-8,-6,-4,-2,0,2,4,6,8],"tickCount":100,"format":"d","labelOverlap":false,"grid":true,"gridColor":"#b8b8b8","gridWidth":0.8,"domain":false,"ticks":true,"tickColor":"#333333","tickSize":3.5,"labelFont":"DejaVu Sans","labelFontSize":8.5,"labelColor":"#333333","labelPadding":2,"titleFont":"DejaVu Sans","titleFontSize":9,"titleFontWeight":"normal","titleColor":"#333333","titlePadding":4}},
       "color":{"field":"s","type":"nominal","scale":{"domain":["VC1","VC2","IL1"],"range":["#d62738","#3a6ab8","#2e9a3a"]},
        "legend":{"title":null,"orient":"top-right","offset":4,"fillColor":"#ffffff","strokeColor":"#cccccc","padding":4,"cornerRadius":3,"symbolType":"stroke","symbolStrokeWidth":1.5,"symbolSize":220,"labelFont":"DejaVu Sans","labelFontSize":8.5,"labelColor":"#333333","rowPadding":5}},
       "strokeDash":{"field":"s","type":"nominal","scale":{"domain":["VC1","VC2","IL1"],"range":[[4,2],[1.2,1.8],[1,0]]},
        "legend":{"title":null,"orient":"top-right","offset":4,"fillColor":"#ffffff","strokeColor":"#cccccc","padding":4,"cornerRadius":3,"symbolType":"stroke","symbolStrokeWidth":1.5,"symbolSize":220,"labelFont":"DejaVu Sans","labelFontSize":8.5,"labelColor":"#333333","rowPadding":5}}}},
     {"data":{"values":[{"x1":1.027,"x2":1.28,"y1":-5.85,"y2":-7.6}]},"mark":{"type":"rect","fill":"#f7bcbc","stroke":"#e9a5a5","strokeWidth":0.8},
      "encoding":{"x":{"field":"x1","type":"quantitative"},"x2":{"field":"x2"},"y":{"field":"y1","type":"quantitative"},"y2":{"field":"y2"}}},
     {"data":{"values":[{"x":1.04,"y":-6.35,"txt":"Modificado"},{"x":1.04,"y":-7.1,"txt":"RL=1 Ω"}]},"mark":{"type":"text","align":"left","baseline":"middle","font":"DejaVu Sans","fontSize":8,"color":"#4a2a2a"},
      "encoding":{"x":{"field":"x","type":"quantitative"},"y":{"field":"y","type":"quantitative"},"text":{"field":"txt"}}}
   ]},
   {"data":{"name":"ilR"},"mark":{"type":"line","strokeWidth":1.8,"interpolate":"monotone"},
    "encoding":{
     "x":{"field":"t","type":"quantitative"},
     "y":{"field":"i","type":"quantitative","scale":{"domain":[-20.5,20.5],"nice":false,"zero":false},
      "axis":{"orient":"right","title":"I(L1)[mA]","values":[-20,-15,-10,-5,0,5,10,15,20],"tickCount":100,"format":"d","labelOverlap":false,"grid":false,"domain":false,"ticks":true,"tickColor":"#333333","tickSize":3.5,"labelFont":"DejaVu Sans","labelFontSize":8.5,"labelColor":"#333333","labelPadding":2,"titleFont":"DejaVu Sans","titleFontSize":9,"titleFontWeight":"normal","titleColor":"#333333","titlePadding":1}},
     "color":{"field":"s","type":"nominal"},
     "strokeDash":{"field":"s","type":"nominal"}}}
  ]}
]},
{"spacing":28,"resolve":{"scale":{"color":"independent","strokeDash":"independent"},"legend":{"color":"independent","strokeDash":"independent"}},"hconcat":[
 {"width":267,"height":272,"view":{"fill":"#ffffff","stroke":"#8c8c8c","strokeWidth":1.5},
  "layer":[
   {"data":{"name":"spec5"},"mark":{"type":"line","strokeWidth":0.9},
    "encoding":{
     "x":{"field":"f","type":"quantitative","scale":{"type":"log","domain":[52,6000000],"nice":false},
      "axis":{"title":"(a)","values":[60,70,80,90,100,200,300,400,500,600,700,800,900,1000,2000,3000,4000,5000,6000,7000,8000,9000,10000,20000,30000,40000,50000,60000,70000,80000,90000,100000,200000,300000,400000,500000,600000,700000,800000,900000,1000000,2000000,3000000,4000000,5000000],"tickCount":100,"labelExpr":"datum.value==100?'100Hz':datum.value==1000?'1KHz':datum.value==10000?'10KHz':datum.value==100000?'100KHz':datum.value==1000000?'1MHz':''","labelOverlap":false,"grid":true,"gridColor":"#a0a0a0","gridDash":[1,1.5],"gridWidth":0.7,"ticks":false,"domain":false,"labelFont":"Liberation Sans","labelFontSize":6,"labelColor":"#333333","labelPadding":6,"titleFont":"DejaVu Serif","titleFontSize":17,"titleFontWeight":"normal","titleColor":"#111111","titlePadding":6}},
     "y":{"field":"db","type":"quantitative","scale":{"domain":[-160,20],"nice":false,"zero":false},
      "axis":{"title":null,"values":[-160,-140,-120,-100,-80,-60,-40,-20,0,20],"tickCount":100,"labelExpr":"datum.value + 'dB'","labelOverlap":false,"grid":true,"gridColor":"#a0a0a0","gridDash":[1,1.5],"gridWidth":0.7,"ticks":true,"tickSize":3,"tickColor":"#777777","domain":false,"labelFont":"Liberation Sans","labelFontSize":6,"labelColor":"#333333","labelPadding":3}},
     "color":{"field":"s","type":"nominal","scale":{"domain":["V(vc1)","V(vc2)","I(L1)"],"range":["#ff3b3b","#2b2bff","#2f9a2f"]},"legend":null}}},
   {"data":{"name":"fuzz5"},"mark":{"type":"area","opacity":0.9},
    "encoding":{"x":{"field":"f","type":"quantitative"},"y":{"field":"lo","type":"quantitative"},"y2":{"field":"hi"},"color":{"field":"s","type":"nominal","legend":null}}},
   {"data":{"name":"spk5"},"mark":{"type":"rule","strokeWidth":0.9},
    "encoding":{"x":{"field":"f","type":"quantitative"},"y":{"field":"lo","type":"quantitative"},"y2":{"field":"hi"},"color":{"field":"s","type":"nominal","legend":null}}},
   {"data":{"name":"lab5"},"mark":{"type":"text","fontSize":6.5,"font":"Liberation Sans","baseline":"alphabetic","dy":-3},
    "encoding":{"x":{"field":"f","type":"quantitative"},"y":{"datum":20,"type":"quantitative"},"text":{"field":"s"},"color":{"field":"s","type":"nominal","legend":null}}}
  ]},
 {"width":263,"height":272,"view":{"fill":"#ffffff","stroke":"#8c8c8c","strokeWidth":1.5},
  "layer":[
   {"data":{"name":"spec6"},"mark":{"type":"line","strokeWidth":0.9},
    "encoding":{
     "x":{"field":"f","type":"quantitative","scale":{"type":"log","domain":[54,5400000],"nice":false},
      "axis":{"title":"(b)","values":[60,70,80,90,100,200,300,400,500,600,700,800,900,1000,2000,3000,4000,5000,6000,7000,8000,9000,10000,20000,30000,40000,50000,60000,70000,80000,90000,100000,200000,300000,400000,500000,600000,700000,800000,900000,1000000,2000000,3000000,4000000,5000000],"tickCount":100,"labelExpr":"datum.value==100?'100Hz':datum.value==1000?'1KHz':datum.value==10000?'10KHz':datum.value==100000?'100KHz':datum.value==1000000?'1MHz':''","labelOverlap":false,"grid":true,"gridColor":"#a0a0a0","gridDash":[1,1.5],"gridWidth":0.7,"ticks":false,"domain":false,"labelFont":"Liberation Sans","labelFontSize":6,"labelColor":"#333333","labelPadding":6,"titleFont":"DejaVu Serif","titleFontSize":17,"titleFontWeight":"normal","titleColor":"#111111","titlePadding":6}},
     "y":{"field":"db","type":"quantitative","scale":{"domain":[-160,20],"nice":false,"zero":false},
      "axis":{"title":null,"values":[-160,-140,-120,-100,-80,-60,-40,-20,0,20],"tickCount":100,"labelExpr":"datum.value + 'dB'","labelOverlap":false,"grid":true,"gridColor":"#a0a0a0","gridDash":[1,1.5],"gridWidth":0.7,"ticks":true,"tickSize":3,"tickColor":"#777777","domain":false,"labelFont":"Liberation Sans","labelFontSize":6,"labelColor":"#333333","labelPadding":2}},
     "color":{"field":"s","type":"nominal","scale":{"domain":["V(vc1)","V(vc2)","I(L1)"],"range":["#ff3b3b","#2b2bff","#2f9a2f"]},"legend":null}}},
   {"data":{"name":"fuzz6"},"mark":{"type":"area","opacity":0.9},
    "encoding":{"x":{"field":"f","type":"quantitative"},"y":{"field":"lo","type":"quantitative"},"y2":{"field":"hi"},"color":{"field":"s","type":"nominal","legend":null}}},
   {"data":{"name":"spk6"},"mark":{"type":"rule","strokeWidth":0.9},
    "encoding":{"x":{"field":"f","type":"quantitative"},"y":{"field":"lo","type":"quantitative"},"y2":{"field":"hi"},"color":{"field":"s","type":"nominal","legend":null}}},
   {"data":{"name":"lab6"},"mark":{"type":"text","fontSize":6.5,"font":"Liberation Sans","baseline":"alphabetic","dy":-3},
    "encoding":{"x":{"field":"f","type":"quantitative"},"y":{"datum":20,"type":"quantitative"},"text":{"field":"s"},"color":{"field":"s","type":"nominal","legend":null}}}
  ]}
]}
]
}
